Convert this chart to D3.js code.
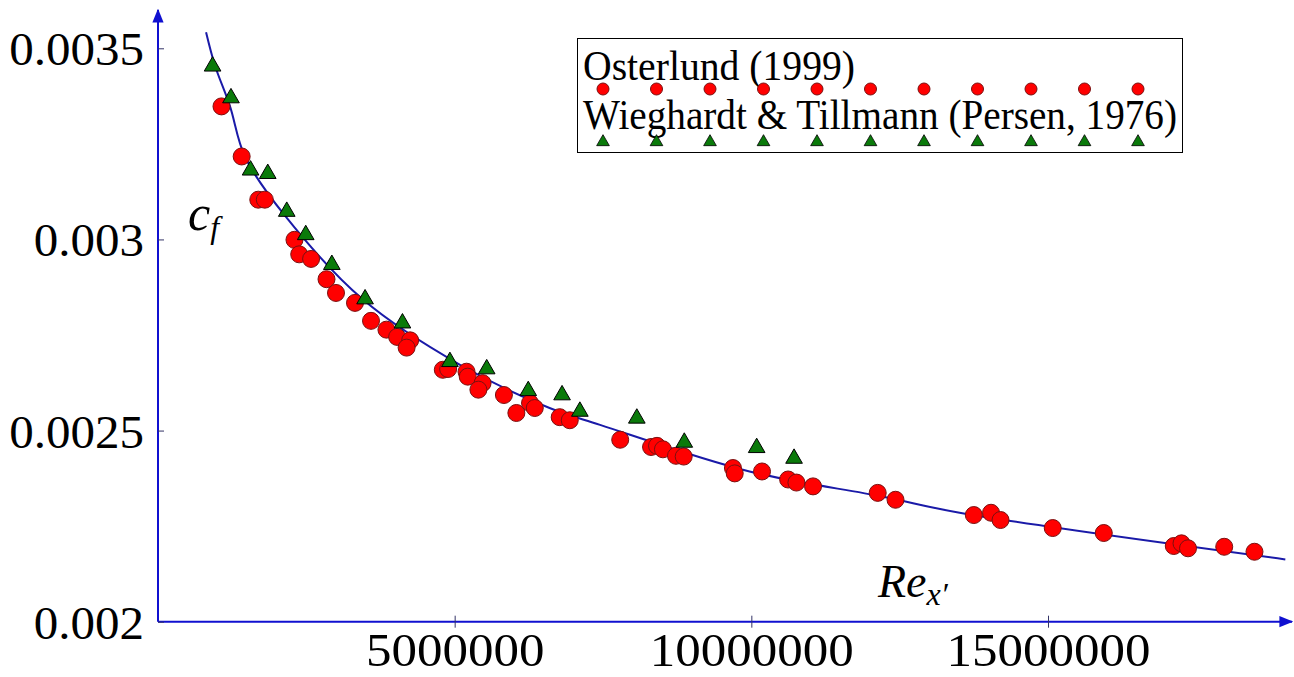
<!DOCTYPE html>
<html>
<head>
<meta charset="utf-8">
<script src="https://cdn.jsdelivr.net/npm/d3@7"></script>
<style>
  body { margin: 0; background: #fff; }
</style>
</head>
<body>
<svg id="chart"></svg>
<script>
// Osterlund (1999) - Re in millions, cf x 1e4
var osterlundRe = [1.07, 1.41, 1.69, 1.80, 2.30, 2.38, 2.58, 2.84, 3.00, 3.32, 3.59, 3.85, 4.03, 4.25, 4.19,
  4.80, 4.89, 5.20, 5.22, 5.47, 5.40, 5.83, 6.04, 6.27, 6.35, 6.77, 6.94, 7.79, 8.31, 8.41, 8.51, 8.73, 8.86,
  9.69, 9.72, 10.18, 10.62, 10.76, 11.04, 12.13, 12.43, 13.75, 14.04, 14.20, 15.08, 15.94, 17.12, 17.25, 17.36, 17.97, 18.48];
var osterlundCf = [33.48, 32.17, 31.04, 31.04, 29.99, 29.61, 29.49, 28.96, 28.60, 28.34, 27.87, 27.64, 27.45, 27.36, 27.17,
  26.59, 26.61, 26.54, 26.41, 26.24, 26.07, 25.93, 25.46, 25.72, 25.59, 25.35, 25.27, 24.76, 24.57, 24.60, 24.51, 24.34, 24.32,
  24.02, 23.88, 23.93, 23.72, 23.64, 23.54, 23.37, 23.19, 22.79, 22.85, 22.66, 22.45, 22.32, 21.98, 22.05, 21.92, 21.96, 21.83];

// Wieghardt & Tillmann (Persen, 1976)
var wieghardtRe = [0.92, 1.23, 1.56, 1.85, 2.17, 2.49, 2.93, 3.49, 4.12, 4.92, 5.54, 6.24, 6.81, 7.11, 8.07, 8.87, 10.09, 10.72];
var wieghardtCf = [34.53, 33.70, 31.81, 31.72, 30.73, 30.12, 29.34, 28.44, 27.81, 26.80, 26.61, 26.04, 25.93, 25.50, 25.32, 24.69, 24.55, 24.27];

// fitted curve
var curveRe = [0.81, 0.96, 1.21, 1.47, 2.15, 3.46, 5.09, 6.6, 7.45, 9.97, 12.22, 13.51, 19.0];
var curveCf = [35.42, 34.55, 33.5, 32.15, 30.6, 28.42, 26.72, 25.59, 25.15, 23.93, 23.27, 22.85, 21.63];

var xTicks = [5000000, 10000000, 15000000];
var yTicks = [0.002, 0.0025, 0.003, 0.0035];
var legendLabels = ["Osterlund (1999)", "Wieghardt & Tillmann (Persen, 1976)"];

var width = 1294, height = 677;
var axisColor = "#1010d0";
var serif = "'Liberation Serif', 'DejaVu Serif Condensed', 'DejaVu Serif', serif";

var svg = d3.select("#chart").attr("width", width).attr("height", height)
    .attr("font-family", serif);

var x = d3.scaleLinear().domain([0, 15e6]).range([158, 1048]);
var y = d3.scaleLinear().domain([0.002, 0.0035]).range([621.7, 48.3]);

function pts(re, cf) {
  return re.map(function(d, i) { return [d * 1e6, cf[i] * 1e-4]; });
}

// width of a number label in a Times-like face (digits 0.5em, point 0.25em)
function numWidth(s, size) {
  return s.split("").reduce(function(a, c) { return a + (c === "." ? 0.25 : 0.5); }, 0) * size;
}

// arrow heads
var defs = svg.append("defs");
defs.append("marker").attr("id", "arrow")
    .attr("viewBox", "0 0 10 10").attr("refX", 9).attr("refY", 5)
    .attr("markerWidth", 7).attr("markerHeight", 7).attr("orient", "auto")
  .append("path").attr("d", "M0,1 L10,5 L0,9 Z").attr("fill", axisColor);

// axis lines
svg.append("line")
    .attr("x1", x(0)).attr("y1", y(0.002)).attr("x2", x(0)).attr("y2", 10)
    .attr("stroke", axisColor).attr("stroke-width", 2).attr("marker-end", "url(#arrow)");
svg.append("line")
    .attr("x1", x(0)).attr("y1", y(0.002)).attr("x2", 1292).attr("y2", y(0.002))
    .attr("stroke", axisColor).attr("stroke-width", 2).attr("marker-end", "url(#arrow)");

// y axis ticks + labels
var yFmt = d3.format("~g");
var gy = svg.append("g").attr("transform", "translate(" + x(0) + ",0)")
    .call(d3.axisLeft(y).tickValues(yTicks).tickSize(6).tickPadding(8).tickFormat(yFmt));
gy.attr("font-family", serif);
gy.select(".domain").remove();
gy.selectAll(".tick line").attr("x2", 6).attr("stroke", "#333366");
gy.selectAll(".tick text").attr("font-size", 46).attr("dy", "0.36em").attr("fill", "#000")
    .attr("font-family", serif)
    .attr("textLength", function(d) { return numWidth(yFmt(d), 49); })
    .attr("lengthAdjust", "spacingAndGlyphs");

// x axis ticks + labels
var xFmt = d3.format("d");
var gx = svg.append("g").attr("transform", "translate(0," + y(0.002) + ")")
    .call(d3.axisBottom(x).tickValues(xTicks).tickSize(6).tickPadding(6).tickFormat(xFmt));
gx.attr("font-family", serif);
gx.select(".domain").remove();
gx.selectAll(".tick line").attr("y1", -6).attr("stroke", "#333366");
gx.selectAll(".tick text").attr("font-size", 46).attr("dy", "0.71em").attr("fill", "#000")
    .attr("font-family", serif)
    .attr("textLength", function(d) { return numWidth(xFmt(d), 51); })
    .attr("lengthAdjust", "spacingAndGlyphs");

// curve
svg.append("path")
    .datum(pts(curveRe, curveCf))
    .attr("fill", "none").attr("stroke", "#1a1aa8").attr("stroke-width", 2)
    .attr("d", d3.line().x(function(d) { return x(d[0]); }).y(function(d) { return y(d[1]); })
      .curve(d3.curveCatmullRom));

var tri = d3.symbol().type(d3.symbolTriangle);

// Osterlund circles
svg.append("g").selectAll("circle")
    .data(pts(osterlundRe, osterlundCf))
  .enter().append("circle")
    .attr("cx", function(d) { return x(d[0]); })
    .attr("cy", function(d) { return y(d[1]); })
    .attr("r", 8.5)
    .attr("fill", "#ff0000").attr("stroke", "#7a1010").attr("stroke-width", 1);

// Wieghardt triangles
svg.append("g").selectAll("path")
    .data(pts(wieghardtRe, wieghardtCf))
  .enter().append("path")
    .attr("d", tri.size(120))
    .attr("transform", function(d) { return "translate(" + x(d[0]) + "," + y(d[1]) + ")"; })
    .attr("fill", "#0a7a0a").attr("stroke", "#000").attr("stroke-width", 1);

// axis titles
var cf = svg.append("text").attr("x", 188).attr("y", 230).attr("font-size", 50).attr("font-style", "italic");
cf.append("tspan").text("c");
cf.append("tspan").attr("font-size", 32).attr("dy", 8).text("f");

var re = svg.append("text").attr("x", 878).attr("y", 597).attr("font-size", 46).attr("font-style", "italic");
re.append("tspan").text("Re");
re.append("tspan").attr("font-size", 32).attr("dy", 8).text("x\u2032");

// legend
var legend = svg.append("g");
legend.append("rect").attr("x", 577.5).attr("y", 38.5).attr("width", 605).attr("height", 114)
    .attr("fill", "#fff").attr("stroke", "#000").attr("stroke-width", 1);
legend.append("text").attr("x", 583).attr("y", 80).attr("font-size", 42)
    .attr("textLength", 272).attr("lengthAdjust", "spacingAndGlyphs").text(legendLabels[0]);
legend.append("text").attr("x", 583).attr("y", 129).attr("font-size", 42)
    .attr("textLength", 594).attr("lengthAdjust", "spacingAndGlyphs").text(legendLabels[1]);

var legendX = d3.range(11).map(function(i) { return 603 + i * 53.5; });
legend.selectAll(".lc").data(legendX).enter().append("circle")
    .attr("cx", function(d) { return d; }).attr("cy", 89).attr("r", 6)
    .attr("fill", "#ff0000").attr("stroke", "#7a1010").attr("stroke-width", 1);
legend.selectAll(".lt").data(legendX).enter().append("path")
    .attr("d", tri.size(70))
    .attr("transform", function(d) { return "translate(" + d + ",142)"; })
    .attr("fill", "#0a7a0a").attr("stroke", "#000").attr("stroke-width", 0.8);
</script>
</body>
</html>
